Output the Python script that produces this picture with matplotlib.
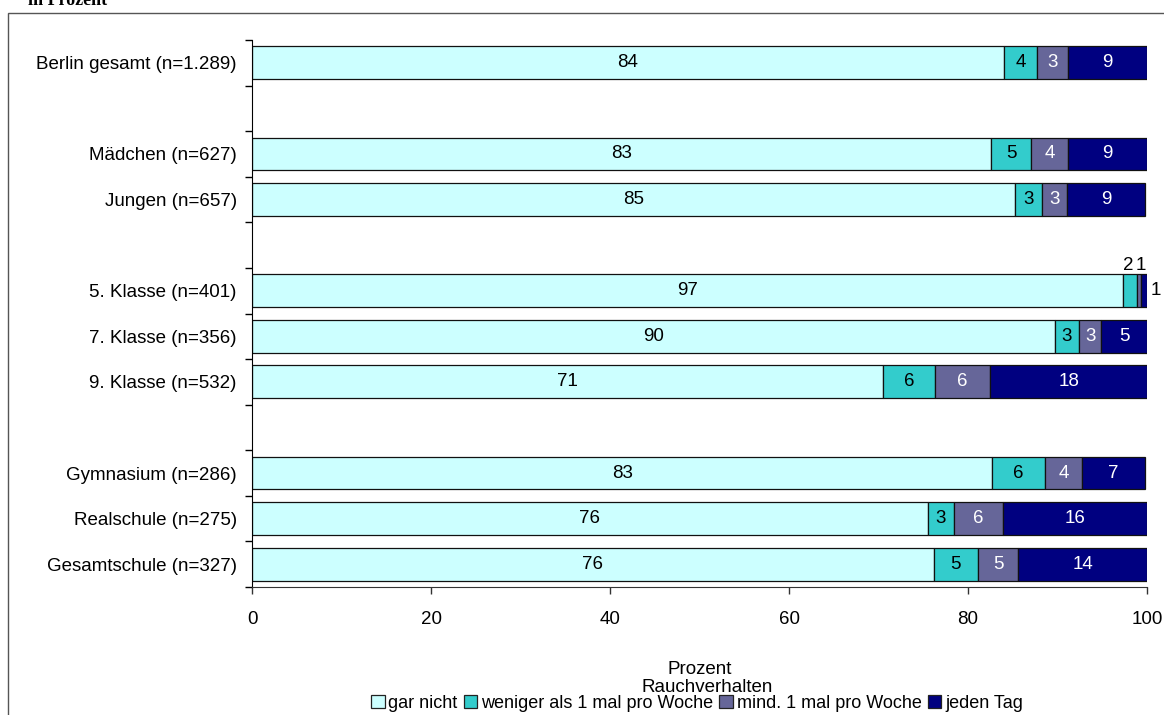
import matplotlib
matplotlib.use("Agg")
import matplotlib.pyplot as plt
import matplotlib.patches as mpatches
import numpy as np

plt.rcParams['font.family'] = ['Liberation Sans', 'DejaVu Sans']

# ---------------- data ----------------
categories = ["Berlin gesamt (n=1.289)", "", "Mädchen (n=627)", "Jungen (n=657)", "",
              "5. Klasse (n=401)", "7. Klasse (n=356)", "9. Klasse (n=532)", "",
              "Gymnasium (n=286)", "Realschule (n=275)", "Gesamtschule (n=327)"]
series_names = ["gar nicht", "weniger als 1 mal pro Woche", "mind. 1 mal pro Woche", "jeden Tag"]
gar_nicht = [84.0, None, 82.6, 85.3, None, 97.3, 89.7, 70.5, None, 82.7, 75.5, 76.2]
weniger   = [3.7, None, 4.4, 3.0, None, 1.6, 2.7, 5.8, None, 5.9, 2.9, 4.9]
mind      = [3.5, None, 4.2, 2.8, None, 0.4, 2.5, 6.2, None, 4.1, 5.5, 4.5]
jeden_tag = [8.8, None, 8.8, 8.7, None, 0.7, 5.1, 17.5, None, 7.1, 16.1, 14.4]
# printed (rounded) labels
lab_gar     = [84, None, 83, 85, None, 97, 90, 71, None, 83, 76, 76]
lab_weniger = [4, None, 5, 3, None, 2, 3, 6, None, 6, 3, 5]
lab_mind    = [3, None, 4, 3, None, 1, 3, 6, None, 4, 6, 5]
lab_jeden   = [9, None, 9, 9, None, 1, 5, 18, None, 7, 16, 14]
x_ticks = [0, 20, 40, 60, 80, 100]

colors = ["#CCFFFF", "#33CCCC", "#666699", "#000080"]
text_colors = ["black", "black", "white", "white"]
FS = 13.5

W, H = 1164, 715
fig = plt.figure(figsize=(W / 100, H / 100), dpi=100)

# outer frame
fig.patches.append(mpatches.Rectangle((8 / W, -0.05), 1.2, 1 - 13 / H + 0.05,
                                      transform=fig.transFigure, fill=False,
                                      edgecolor="#555555", linewidth=1.0, zorder=0))
fig.text(28 / W, 1 - 5 / H, "in Prozent", family="Liberation Serif", fontweight="bold",
         fontsize=13, ha="left", va="baseline")

ax = fig.add_axes([252 / W, 1 - 587 / H, (1147 - 252) / W, (587 - 40) / H])

series = [gar_nicht, weniger, mind, jeden_tag]
labels = [lab_gar, lab_weniger, lab_mind, lab_jeden]
n = len(categories)
y = np.arange(n)
left = np.zeros(n)
for si, (vals, lab) in enumerate(zip(series, labels)):
    v = np.array([0 if a is None else a for a in vals], dtype=float)
    mask = np.array([a is not None for a in vals])
    ax.barh(y[mask], v[mask], left=left[mask], height=0.72, color=colors[si],
            edgecolor="#111111", linewidth=0.9, label=series_names[si], zorder=2)
    for i in np.where(mask)[0]:
        cx = left[i] + v[i] / 2
        if v[i] < 2.0:
            # small segments: label outside the bar
            if si == 3:
                ax.annotate(str(lab[i]), (left[i] + v[i], y[i]), xytext=(6, 0),
                            textcoords="offset points", ha="center", va="center",
                            fontsize=FS, color="black")
            else:
                dx = -1 if si == 1 else 1
                ax.annotate(str(lab[i]), (cx, y[i] - 0.36), xytext=(dx, 0),
                            textcoords="offset points", ha="center", va="bottom",
                            fontsize=FS, color="black")
        else:
            ax.text(cx, y[i], str(lab[i]), ha="center", va="center",
                    fontsize=FS, color=text_colors[si], zorder=3)
    left = left + v

ax.set_xlim(0, 100)
ax.set_ylim(n - 0.5, -0.5)
ax.set_xticks(x_ticks)
ax.set_xticklabels([str(t) for t in x_ticks], fontsize=FS)
ax.set_yticks(y)
ax.set_yticklabels(categories, fontsize=FS)
ax.set_yticks(np.arange(-0.5, n, 1.0), minor=True)
ax.tick_params(axis="y", which="major", length=0, pad=11)
ax.tick_params(axis="y", which="minor", length=5, width=1, color="black", direction="out")
ax.tick_params(axis="x", which="major", length=5, width=1, color="#333333", pad=12)
for s in ["top", "right"]:
    ax.spines[s].set_visible(False)
ax.spines["left"].set_color("black")
ax.spines["bottom"].set_color("#333333")
ax.set_xlabel("Prozent", fontsize=FS, labelpad=24)

fig.text(707 / W, 1 - 687 / H, "Rauchverhalten", fontsize=FS, ha="center", va="center")

handles = [mpatches.Patch(facecolor=c, edgecolor="#222222", linewidth=0.9) for c in colors]
leg = fig.legend(handles, series_names, loc="center", bbox_to_anchor=(697 / W, 1 - 703 / H),
                 ncol=4, frameon=False, fontsize=13, handlelength=0.75, handleheight=0.75,
                 handletextpad=0.2, columnspacing=0.35, borderpad=0.0, borderaxespad=0.0)

fig.savefig("out.png", dpi=100)
